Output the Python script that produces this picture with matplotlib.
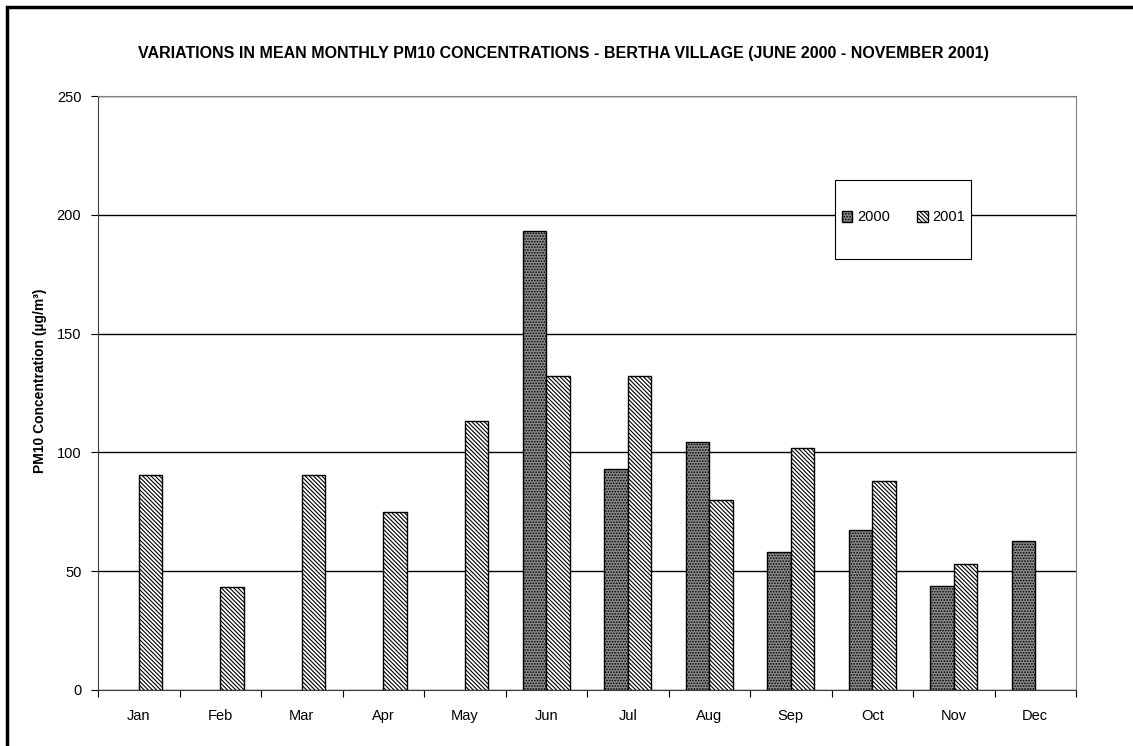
import numpy as np
import matplotlib.pyplot as plt
from matplotlib.patches import Rectangle

plt.rcParams['font.family'] = ['Liberation Sans', 'DejaVu Sans']
plt.rcParams['hatch.linewidth'] = 0.8

# datos mensuales PM10 (ug/m3)
meses = ["Jan", "Feb", "Mar", "Apr", "May", "Jun", "Jul", "Aug", "Sep", "Oct", "Nov", "Dec"]
pm10_2000 = [np.nan, np.nan, np.nan, np.nan, np.nan, 193.3, 93.2, 104.5, 58.0, 67.2, 43.9, 62.6]
pm10_2001 = [90.5, 43.5, 90.5, 75.0, 113.3, 132.1, 132.1, 79.8, 102.0, 88.1, 53.2, np.nan]

x = np.arange(len(meses))
ancho = 0.29

fig = plt.figure(figsize=(11.33, 7.46), dpi=100)
ax = fig.add_axes([0.0865, 0.0751, 0.8632, 0.7962])

ax.bar(x - ancho/2, pm10_2000, ancho, color="#8a8a8a", edgecolor="black", hatch="......", linewidth=1, label="2000", zorder=3)
ax.bar(x + ancho/2, pm10_2001, ancho, color="white", edgecolor="black", hatch="\\" * 8, linewidth=1, label="2001", zorder=3)

ax.set_xlim(-0.5, len(meses) - 0.5)
ax.set_ylim(0, 250)
ax.set_yticks(np.arange(0, 251, 50))
ax.yaxis.grid(True, color="black", linewidth=1, zorder=0)

# marcas entre meses, etiquetas centradas
ax.set_xticks(np.arange(-0.5, len(meses)), minor=False)
ax.set_xticklabels([])
ax.set_xticks(x, minor=True)
ax.set_xticklabels(meses, minor=True, fontsize=10.5)
ax.tick_params(axis="x", which="minor", length=0, pad=14)
ax.tick_params(axis="x", which="major", length=5, direction="out", color="black")
ax.tick_params(axis="y", length=5, direction="out", labelsize=10.5, pad=7)

for lado in ["top", "right"]:
    ax.spines[lado].set_color("#808080")
for lado in ["left", "bottom"]:
    ax.spines[lado].set_color("#404040")

ax.set_ylabel("PM10 Concentration (µg/m³)", fontsize=10, fontweight="bold")
ax.yaxis.set_label_coords(-0.0525, 0.52)

fig.suptitle("VARIATIONS IN MEAN MONTHLY PM10 CONCENTRATIONS - BERTHA VILLAGE (JUNE 2000 - NOVEMBER 2001)",
             fontsize=11.5, fontweight="bold", x=0.497, y=0.939)

# leyenda con su recuadro
ax.add_patch(Rectangle((0.7536, 0.7256), 0.139, 0.133, transform=ax.transAxes,
                       facecolor="white", edgecolor="black", linewidth=0.8, zorder=4))
leg = ax.legend(loc="center", bbox_to_anchor=(0.8236, 0.7956), ncol=2, fontsize=10.5,
                handlelength=0.75, handleheight=0.75, handletextpad=0.3, columnspacing=1.9,
                frameon=False)
leg.set_zorder(5)

# marco exterior
fig.patches.append(Rectangle((0.006, -0.5), 1.5, 0.5 + 0.9906, transform=fig.transFigure,
                             fill=False, edgecolor="black", linewidth=2.5))

plt.savefig("out.png", dpi=100)
